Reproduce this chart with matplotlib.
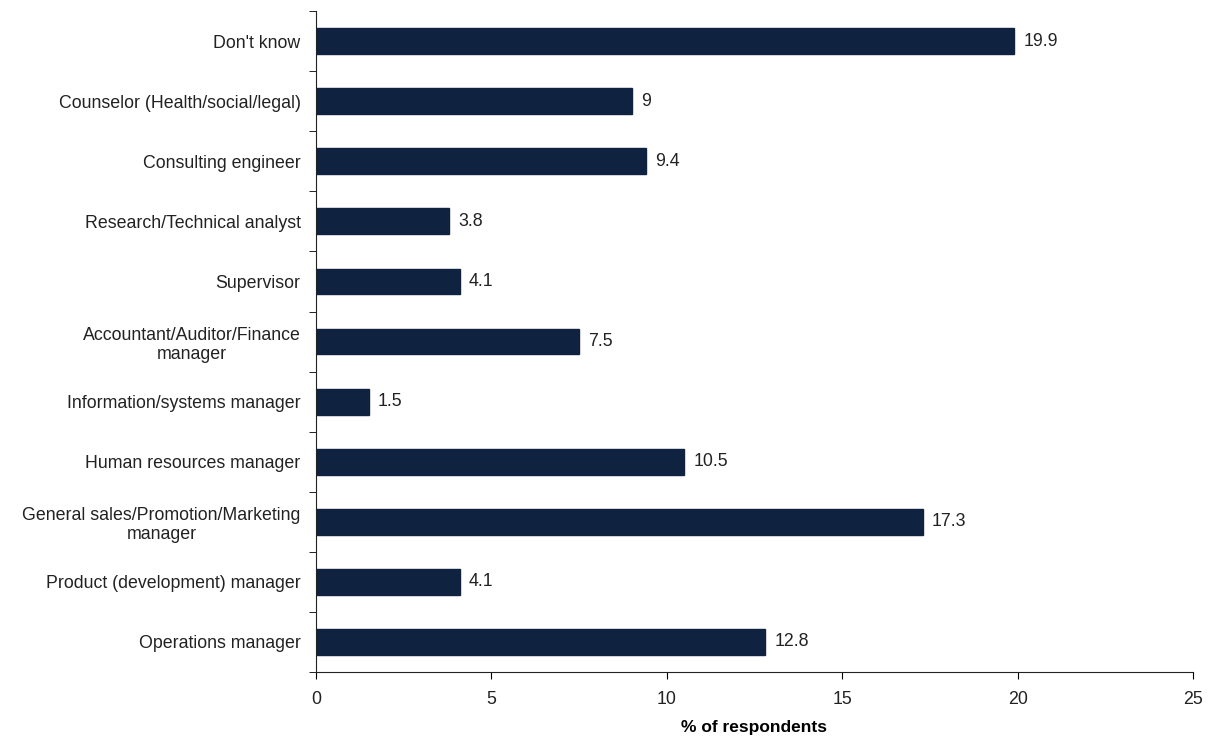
import matplotlib.pyplot as plt
import numpy as np

plt.rcParams['font.family'] = ['Liberation Sans', 'DejaVu Sans']

# categories listed bottom to top
categories = ['Operations manager',
              'Product (development) manager',
              'General sales/Promotion/Marketing\nmanager',
              'Human resources manager',
              'Information/systems manager',
              'Accountant/Auditor/Finance\nmanager',
              'Supervisor',
              'Research/Technical analyst',
              'Consulting engineer',
              'Counselor (Health/social/legal)',
              "Don't know"]
values = [12.8, 4.1, 17.3, 10.5, 1.5, 7.5, 4.1, 3.8, 9.4, 9.0, 19.9]
value_labels = ['12.8', '4.1', '17.3', '10.5', '1.5', '7.5', '4.1', '3.8', '9.4', '9', '19.9']
x_ticks = [0, 5, 10, 15, 20, 25]

fs = 12.8

fig = plt.figure(figsize=(12.18, 7.4), dpi=100)
ax = fig.add_axes([0.2594, 0.0919, 0.7201, 0.8931])

y = np.arange(len(categories))
ax.barh(y, values, height=0.43, color='#0f2340', edgecolor='#0f2340')

for yi, v, lab in zip(y, values, value_labels):
    ax.text(v + 0.26, yi, lab, va='center', ha='left', fontsize=fs, color='#222222')

ax.set_xlim(0, 25)
ax.set_ylim(-0.5, len(categories) - 0.5)
ax.set_xticks(x_ticks)
ax.set_yticks(y)
ax.set_yticklabels(categories, fontsize=fs, color='#222222', multialignment='center')
ax.tick_params(axis='y', length=0, pad=11)
ax.set_yticks(np.arange(-0.5, len(categories), 1), minor=True)
ax.tick_params(axis='y', which='minor', length=5, direction='out')
ax.tick_params(axis='x', length=5, direction='out', labelsize=fs, labelcolor='#222222', pad=9)

for s in ['top', 'right']:
    ax.spines[s].set_visible(False)
for s in ['left', 'bottom']:
    ax.spines[s].set_color('#222222')

ax.set_xlabel('% of respondents', fontsize=12.5, fontweight='bold', labelpad=8)

fig.savefig('out.png', dpi=100)
